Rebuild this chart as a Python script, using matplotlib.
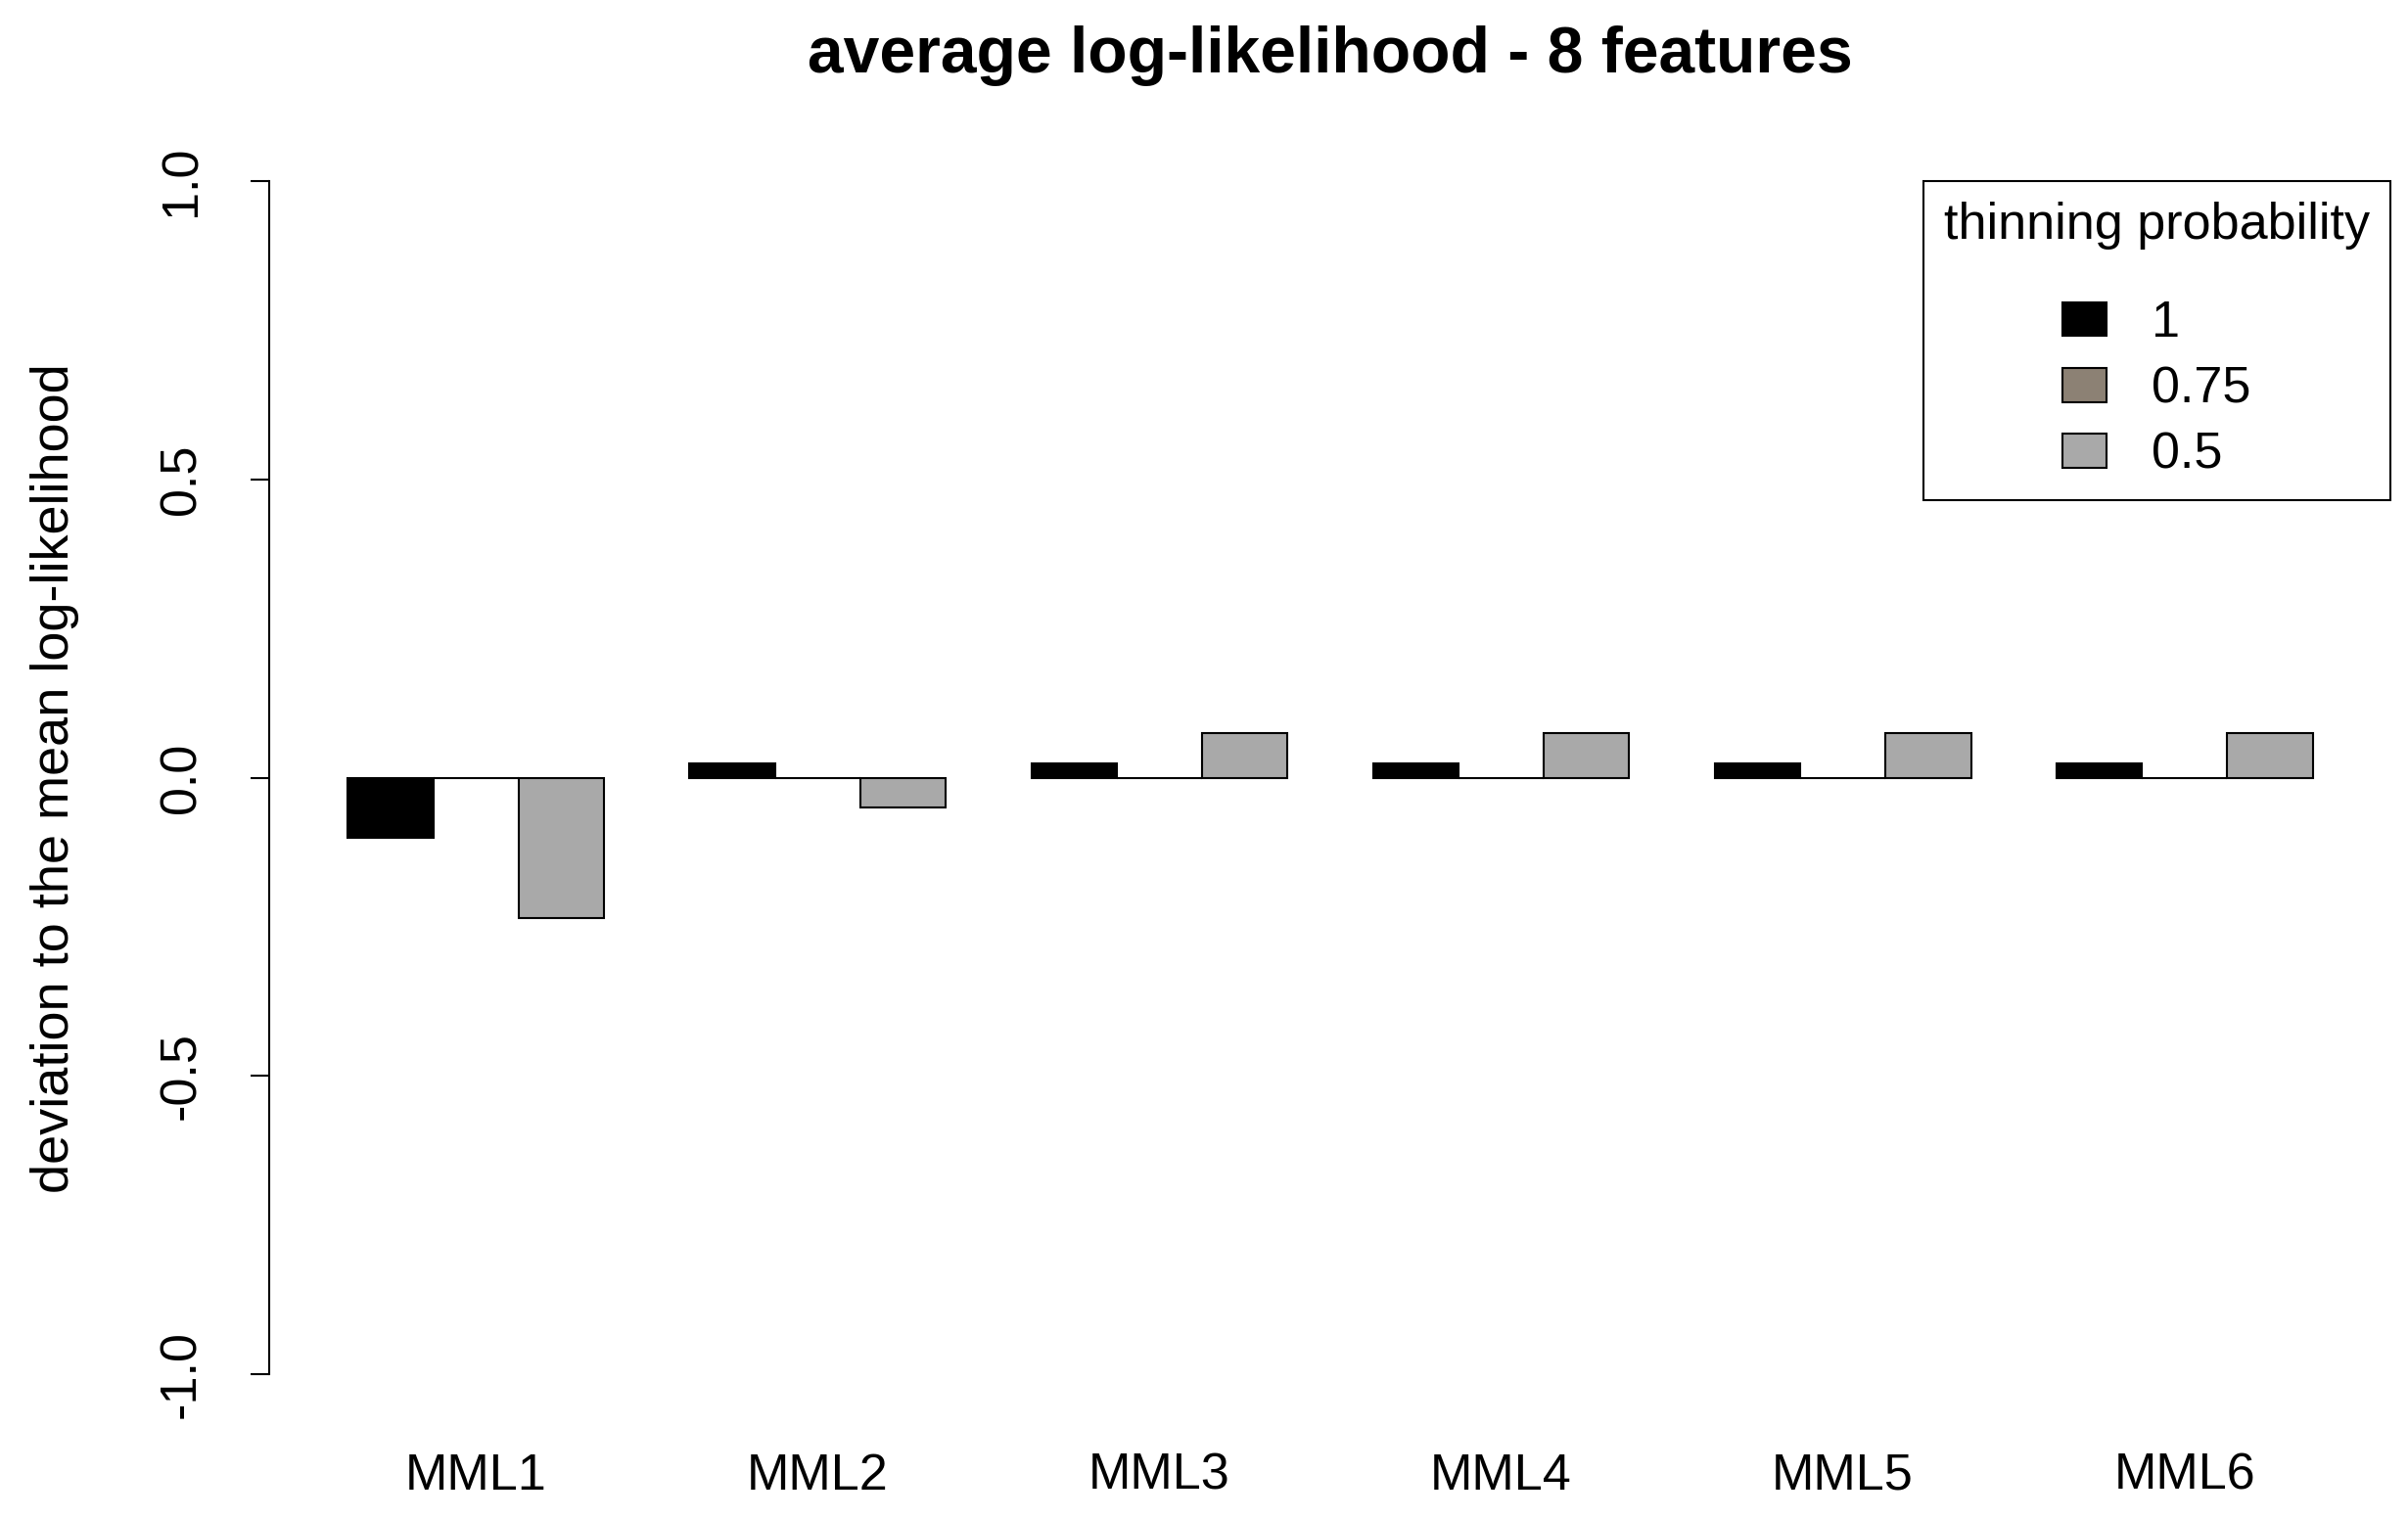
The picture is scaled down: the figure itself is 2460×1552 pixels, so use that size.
import matplotlib
matplotlib.use("Agg")
import matplotlib.pyplot as plt
import numpy as np

plt.rcParams['font.family'] = ['Liberation Sans', 'DejaVu Sans']

categories = ["MML1", "MML2", "MML3", "MML4", "MML5", "MML6"]
series_labels = ["1", "0.75", "0.5"]
values_p1 = [-0.10, 0.025, 0.025, 0.025, 0.025, 0.025]
values_p075 = [0.0, 0.0, 0.0, 0.0, 0.0, 0.0]
values_p05 = [-0.235, -0.05, 0.075, 0.075, 0.075, 0.075]
colors = ["#000000", "#8C8174", "#A9A9A9"]
yticks = [-1.0, -0.5, 0.0, 0.5, 1.0]
ytick_labels = ["-1.0", "-0.5", "0.0", "0.5", "1.0"]

W, H = 2460, 1552
fig = plt.figure(figsize=(W / 100, H / 100), dpi=100)
left, right, top, bottom = 275, 2443, 136.5, 1453
ax = fig.add_axes([left / W, 1 - bottom / H, (right - left) / W, (bottom - top) / H])

lw = 1.5
series = [values_p1, values_p075, values_p05]
n = len(categories)
group_start = 1 + 4 * np.arange(n)
for j, (vals, col, lab) in enumerate(zip(series, colors, series_labels)):
    ax.bar(group_start + j + 0.5, vals, width=1.0, color=col, edgecolor="black",
           linewidth=lw, label=lab, zorder=2)

ax.set_xlim(0.08, 24.92)
ax.set_ylim(-1.08, 1.08)

for s in ["top", "right", "bottom"]:
    ax.spines[s].set_visible(False)
ax.spines["left"].set_bounds(-1, 1)
ax.spines["left"].set_linewidth(lw)

ax.set_yticks(yticks)
ax.set_yticklabels(ytick_labels, rotation=90, va="center")
ax.tick_params(axis="y", length=19 * 0.72, width=lw, labelsize=37.5, pad=33)
ax.set_xticks(group_start + 1.5)
ax.set_xticklabels(categories)
ax.tick_params(axis="x", length=0, labelsize=37.5, pad=22)

ax.set_ylabel("deviation to the mean log-likelihood", fontsize=39, labelpad=58)
fig.text((left + right) / 2 / W, 1 - 57 / H, "average log-likelihood - 8 features",
         fontsize=47.5, fontweight="bold", ha="center", va="center")

leg = ax.legend(title="thinning probability", loc="upper right",
                bbox_to_anchor=(2442 / W, 1 - 185 / H), bbox_transform=fig.transFigure,
                fontsize=37.5, title_fontsize=37.5, fancybox=False, framealpha=1,
                edgecolor="black", handlelength=0.85, handleheight=0.65,
                handletextpad=0.9, labelspacing=0.35, borderpad=0.4,
                borderaxespad=0)
leg.get_frame().set_linewidth(lw)
leg._legend_box.sep = 37

fig.savefig("out.png", dpi=100, facecolor="white")
